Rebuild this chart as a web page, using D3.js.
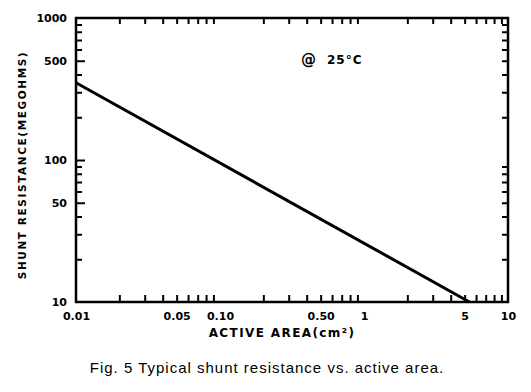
<!DOCTYPE html>
<html>
<head>
<meta charset="utf-8">
<script src="https://cdn.jsdelivr.net/npm/d3@7"></script>
<style>
  body { margin: 0; background: #fff; }
  text { fill: #000; }
  .lbl { font-family: "DejaVu Sans", sans-serif; font-weight: bold; }
</style>
</head>
<body>
<div id="chart"></div>
<script>
// Data
var areaValues = [0.01, 5.4];          // cm^2
var resistanceValues = [350, 10];      // megohms
var xTickValues = [0.01, 0.05, 0.1, 0.5, 1, 5, 10];
var xTickLabels = ["0.01", "0.05", "0.10", "0.50", "1", "5", "10"];
var yTickValues = [10, 50, 100, 500, 1000];
var yTickLabels = ["10", "50", "100", "500", "1000"];

// SVG area
var svgWidth = 531;
var svgHeight = 392;
var margin = { top: 18, right: 23, bottom: 90, left: 76 };
var width = svgWidth - margin.left - margin.right;
var height = svgHeight - margin.top - margin.bottom;

var svg = d3.select("#chart")
    .append("svg")
    .attr("width", svgWidth)
    .attr("height", svgHeight);

var chartGroup = svg.append("g")
    .attr("transform", `translate(${margin.left}, ${margin.top})`);

var x = d3.scaleLog().domain([0.01, 10]).range([0, width]);
var y = d3.scaleLog().domain([10, 1000]).range([height, 0]);

// minor ticks: every 2..9 in each decade
function decadeTicks(lo, hi) {
    var out = [];
    for (var d = lo; d < hi; d *= 10) {
        for (var k = 2; k <= 9; k++) out.push(+(d * k).toPrecision(3));
    }
    return out;
}
var xMinor = decadeTicks(0.01, 10);
var yMinor = decadeTicks(10, 1000).filter(v => yTickValues.indexOf(v) < 0);

function styleAxis(g) {
    g.select(".domain").remove();
    g.selectAll(".tick line").attr("stroke", "#000").attr("stroke-width", 2);
}

// bottom and top minor ticks (pointing inward)
chartGroup.append("g")
    .attr("transform", `translate(0, ${height})`)
    .call(d3.axisBottom(x).tickValues(xMinor).tickSize(-7).tickFormat(""))
    .call(styleAxis);
chartGroup.append("g")
    .call(d3.axisTop(x).tickValues(xMinor).tickSize(-6).tickFormat(""))
    .call(styleAxis);

// left and right ticks
chartGroup.append("g")
    .call(d3.axisLeft(y).tickValues(yMinor).tickSize(-6).tickFormat(""))
    .call(styleAxis);
chartGroup.append("g")
    .call(d3.axisLeft(y).tickValues(yTickValues.slice(1, -1)).tickSize(-9).tickFormat(""))
    .call(styleAxis);
chartGroup.append("g")
    .attr("transform", `translate(${width}, 0)`)
    .call(d3.axisRight(y).tickValues(decadeTicks(10, 1000)).tickSize(-6).tickFormat(""))
    .call(styleAxis);

// tick labels
var xLabelAxis = chartGroup.append("g")
    .attr("transform", `translate(0, ${height})`)
    .call(d3.axisBottom(x).tickValues(xTickValues).tickSize(0).tickPadding(10)
        .tickFormat((d, i) => xTickLabels[i]));
xLabelAxis.select(".domain").remove();
xLabelAxis.selectAll("text")
    .style("font-size", "11px")
    .style("font-family", "DejaVu Sans, sans-serif")
    .style("font-weight", "bold");

var yLabelAxis = chartGroup.append("g")
    .call(d3.axisLeft(y).tickValues(yTickValues).tickSize(0).tickPadding(9)
        .tickFormat((d, i) => yTickLabels[i]));
yLabelAxis.select(".domain").remove();
yLabelAxis.selectAll("text")
    .style("font-size", "11px")
    .style("font-family", "DejaVu Sans, sans-serif")
    .style("font-weight", "bold");

// frame
chartGroup.append("rect")
    .attr("x", 0)
    .attr("y", 0)
    .attr("width", width)
    .attr("height", height)
    .attr("fill", "none")
    .attr("stroke", "#000")
    .attr("stroke-width", 2.5);

// the line
var line = d3.line()
    .x(d => x(d[0]))
    .y(d => y(d[1]));

chartGroup.append("path")
    .datum(areaValues.map((a, i) => [a, resistanceValues[i]]))
    .attr("d", line)
    .attr("fill", "none")
    .attr("stroke", "#000")
    .attr("stroke-width", 3);

// annotation
chartGroup.append("text")
    .attr("x", 225)
    .attr("y", 47)
    .attr("class", "lbl")
    .style("font-size", "15px")
    .text("@");
chartGroup.append("text")
    .attr("x", 251)
    .attr("y", 46)
    .attr("class", "lbl")
    .style("font-size", "12px")
    .style("letter-spacing", "1px")
    .text("25°C");

// axis titles
chartGroup.append("text")
    .attr("x", 206)
    .attr("y", height + 35)
    .attr("text-anchor", "middle")
    .attr("class", "lbl")
    .style("font-size", "12px")
    .style("letter-spacing", "1.4px")
    .text("ACTIVE AREA(cm²)");

chartGroup.append("text")
    .attr("transform", "rotate(-90)")
    .attr("x", -147)
    .attr("y", -50)
    .attr("text-anchor", "middle")
    .attr("class", "lbl")
    .style("font-size", "10.5px")
    .style("letter-spacing", "1.6px")
    .text("SHUNT RESISTANCE(MEGOHMS)");

// caption
svg.append("text")
    .attr("x", 267)
    .attr("y", 373)
    .attr("text-anchor", "middle")
    .style("font-family", "Liberation Sans, Arial, sans-serif")
    .style("font-size", "15px")
    .style("letter-spacing", "1px")
    .text("Fig. 5 Typical shunt resistance vs. active area.");
</script>
</body>
</html>
